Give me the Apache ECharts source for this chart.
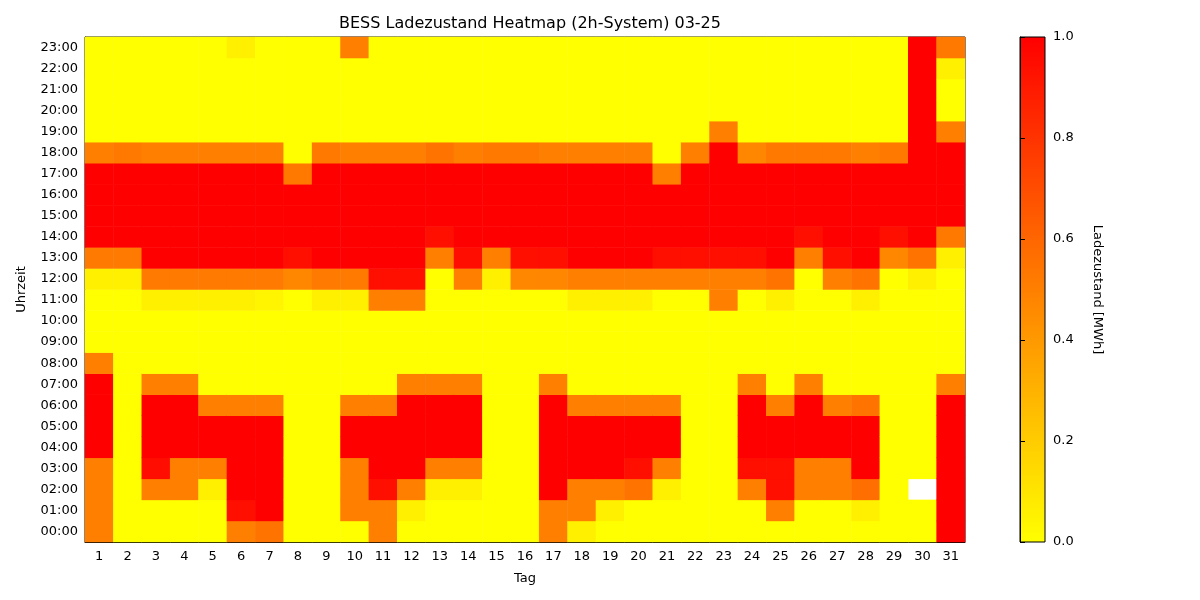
<!DOCTYPE html>
<html>
<head>
<meta charset="utf-8">
<title>BESS Ladezustand Heatmap</title>
<script src="https://cdn.jsdelivr.net/npm/echarts@6/dist/echarts.min.js"></script>
<style>
  html, body { margin: 0; padding: 0; background: #fff; }
  #chart { width: 1200px; height: 600px; }
</style>
</head>
<body>
<div id="chart"></div>
<script>
// Tage (x) und Stunden (y)
var days = [];
for (var i = 1; i <= 31; i++) days.push(String(i));
var hours = [];
for (var h = 0; h < 24; h++) hours.push((h < 10 ? '0' : '') + h + ':00');
var socTicks = [0, 0.2, 0.4, 0.6, 0.8, 1.0];

// Ladezustand je Tag, Stunde 00:00 .. 23:00 ('-' = fehlender Wert)
var d01 = [0.5, 0.5, 0.5, 0.5, 1, 1, 1, 1, 0.5, 0, 0, 0, 0.06, 0.52, 1, 1, 1, 1, 0.5, 0, 0, 0, 0, 0];
var d02 = [0, 0, 0, 0, 0, 0, 0, 0, 0, 0, 0, 0, 0.06, 0.52, 1, 1, 1, 1, 0.53, 0, 0, 0, 0, 0];
var d03 = [0, 0, 0.5, 0.95, 1, 1, 1, 0.5, 0, 0, 0, 0.06, 0.52, 1, 1, 1, 1, 1, 0.5, 0, 0, 0, 0, 0];
var d04 = [0, 0, 0.5, 0.5, 1, 1, 1, 0.5, 0, 0, 0, 0.06, 0.52, 1, 1, 1, 1, 1, 0.5, 0, 0, 0, 0, 0];
var d05 = [0, 0, 0.06, 0.5, 1, 1, 0.5, 0, 0, 0, 0, 0.06, 0.52, 1, 1, 1, 1, 1, 0.5, 0, 0, 0, 0, 0];
var d06 = [0.5, 0.94, 1, 1, 1, 1, 0.5, 0, 0, 0, 0, 0.06, 0.52, 1, 1, 1, 1, 1, 0.5, 0, 0, 0, 0, 0.06];
var d07 = [0.55, 1, 1, 1, 1, 1, 0.5, 0, 0, 0, 0, 0.04, 0.52, 1, 1, 1, 1, 1, 0.5, 0, 0, 0, 0, 0];
var d08 = [0, 0, 0, 0, 0, 0, 0, 0, 0, 0, 0, 0, 0.47, 0.94, 1, 1, 1, 0.53, 0, 0, 0, 0, 0, 0];
var d09 = [0, 0, 0, 0, 0, 0, 0, 0, 0, 0, 0, 0.06, 0.52, 1, 1, 1, 1, 1, 0.53, 0, 0, 0, 0, 0];
var d10 = [0, 0.5, 0.5, 0.5, 1, 1, 0.5, 0, 0, 0, 0, 0.06, 0.52, 1, 1, 1, 1, 1, 0.5, 0, 0, 0, 0, 0.5];
var d11 = [0.5, 0.5, 0.94, 1, 1, 1, 0.5, 0, 0, 0, 0, 0.5, 0.94, 1, 1, 1, 1, 1, 0.5, 0, 0, 0, 0, 0];
var d12 = [0, 0.06, 0.5, 1, 1, 1, 1, 0.5, 0, 0, 0, 0.5, 0.94, 1, 1, 1, 1, 1, 0.5, 0, 0, 0, 0, 0];
var d13 = [0, 0, 0.06, 0.5, 1, 1, 1, 0.5, 0, 0, 0, 0, 0, 0.5, 0.94, 1, 1, 1, 0.55, 0, 0, 0, 0, 0];
var d14 = [0, 0, 0.06, 0.5, 1, 1, 1, 0.5, 0, 0, 0, 0, 0.5, 0.95, 1, 1, 1, 1, 0.5, 0, 0, 0, 0, 0];
var d15 = [0, 0, 0, 0, 0, 0, 0, 0, 0, 0, 0, 0, 0.06, 0.5, 1, 1, 1, 1, 0.53, 0, 0, 0, 0, 0];
var d16 = [0, 0, 0, 0, 0, 0, 0, 0, 0, 0, 0, 0, 0.47, 0.94, 1, 1, 1, 1, 0.53, 0, 0, 0, 0, 0];
var d17 = [0.5, 0.5, 1, 1, 1, 1, 1, 0.5, 0, 0, 0, 0, 0.47, 0.94, 1, 1, 1, 1, 0.5, 0, 0, 0, 0, 0];
var d18 = [0.06, 0.5, 0.5, 1, 1, 1, 0.5, 0, 0, 0, 0, 0.06, 0.5, 1, 1, 1, 1, 1, 0.5, 0, 0, 0, 0, 0];
var d19 = [0, 0.06, 0.5, 1, 1, 1, 0.5, 0, 0, 0, 0, 0.06, 0.5, 1, 1, 1, 1, 1, 0.5, 0, 0, 0, 0, 0];
var d20 = [0, 0, 0.55, 0.94, 1, 1, 0.5, 0, 0, 0, 0, 0.06, 0.5, 1, 1, 1, 1, 1, 0.5, 0, 0, 0, 0, 0];
var d21 = [0, 0, 0.06, 0.5, 1, 1, 0.5, 0, 0, 0, 0, 0, 0.5, 0.94, 1, 1, 1, 0.5, 0, 0, 0, 0, 0, 0];
var d22 = [0, 0, 0, 0, 0, 0, 0, 0, 0, 0, 0, 0, 0.5, 0.94, 1, 1, 1, 1, 0.5, 0, 0, 0, 0, 0];
var d23 = [0, 0, 0, 0, 0, 0, 0, 0, 0, 0, 0, 0.5, 0.5, 0.94, 1, 1, 1, 1, 1, 0.5, 0, 0, 0, 0];
var d24 = [0, 0, 0.5, 0.94, 1, 1, 1, 0.5, 0, 0, 0, 0, 0.5, 0.94, 1, 1, 1, 1, 0.47, 0, 0, 0, 0, 0];
var d25 = [0, 0.5, 0.94, 0.94, 1, 1, 0.5, 0, 0, 0, 0, 0.06, 0.55, 1, 1, 1, 1, 1, 0.53, 0, 0, 0, 0, 0];
var d26 = [0, 0, 0.5, 0.5, 1, 1, 1, 0.5, 0, 0, 0, 0, 0, 0.5, 0.94, 1, 1, 1, 0.53, 0, 0, 0, 0, 0];
var d27 = [0, 0, 0.5, 0.5, 1, 1, 0.5, 0, 0, 0, 0, 0, 0.5, 0.94, 1, 1, 1, 1, 0.53, 0, 0, 0, 0, 0];
var d28 = [0, 0.06, 0.57, 1, 1, 1, 0.55, 0, 0, 0, 0, 0.06, 0.55, 1, 1, 1, 1, 1, 0.5, 0, 0, 0, 0, 0];
var d29 = [0, 0, 0, 0, 0, 0, 0, 0, 0, 0, 0, 0, 0, 0.47, 0.94, 1, 1, 1, 0.53, 0, 0, 0, 0, 0];
var d30 = [0, 0, '-', 0, 0, 0, 0, 0, 0, 0, 0, 0, 0.06, 0.55, 1, 1, 1, 1, 1, 1, 1, 1, 1, 1];
var d31 = [1, 1, 1, 1, 1, 1, 1, 0.5, 0, 0, 0, 0, 0, 0.06, 0.53, 1, 1, 1, 1, 0.5, 0, 0, 0.06, 0.53];

var socByDay = [d01, d02, d03, d04, d05, d06, d07, d08, d09, d10, d11, d12, d13, d14, d15, d16,
	d17, d18, d19, d20, d21, d22, d23, d24, d25, d26, d27, d28, d29, d30, d31];

var cells = [];
socByDay.forEach(function (col, x) {
	col.forEach(function (v, y) {
		cells.push([x, y, v]);
	});
});

var font = 'DejaVu Sans';
var chart = echarts.init(document.getElementById('chart'));

var option = {
	backgroundColor: '#fff',
	animation: false,
	textStyle: { fontFamily: font, color: '#000' },
	title: {
		text: 'BESS Ladezustand Heatmap (2h-System) 03-25',
		left: 525,
		top: 11,
		textAlign: 'center',
		textStyle: { fontFamily: font, fontSize: 16, fontWeight: 'normal', color: '#000' }
	},
	grid: [
		{ left: 85, top: 37, width: 880, height: 505, show: true, borderColor: '#000', borderWidth: 1, backgroundColor: 'transparent' },
		// Farbskala
		{
			left: 1020, top: 37, width: 25, height: 505, show: true, borderColor: '#000', borderWidth: 1,
			backgroundColor: new echarts.graphic.LinearGradient(0, 0, 0, 1, [
				{ offset: 0, color: '#ff0000' },
				{ offset: 1, color: '#ffff00' }
			])
		}
	],
	xAxis: [
		{
			type: 'category', gridIndex: 0, data: days,
			name: 'Tag', nameLocation: 'middle', nameGap: 30,
			nameTextStyle: { fontFamily: font, fontSize: 13, color: '#000' },
			axisLine: { lineStyle: { color: '#000' } },
			axisTick: { alignWithLabel: true, length: 5, lineStyle: { color: '#000' } },
			axisLabel: { fontFamily: font, fontSize: 13, color: '#000', interval: 0, margin: 8 },
			splitLine: { show: false }
		},
		{ type: 'value', gridIndex: 1, show: false, min: 0, max: 1 }
	],
	yAxis: [
		{
			type: 'category', gridIndex: 0, data: hours,
			name: 'Uhrzeit', nameLocation: 'middle', nameGap: 57, nameRotate: 90,
			nameTextStyle: { fontFamily: font, fontSize: 13, color: '#000' },
			axisLine: { lineStyle: { color: '#000' } },
			axisTick: { alignWithLabel: true, length: 5, lineStyle: { color: '#000' } },
			axisLabel: { fontFamily: font, fontSize: 13, color: '#000', interval: 0, margin: 7 },
			splitLine: { show: false }
		},
		{
			type: 'value', gridIndex: 1, position: 'right', min: 0, max: 1, interval: 0.2,
			name: 'Ladezustand [MWh]', nameLocation: 'middle', nameGap: 46, nameRotate: -90,
			nameTextStyle: { fontFamily: font, fontSize: 13, color: '#000' },
			axisLine: { show: true, lineStyle: { color: '#000' } },
			axisTick: { show: true, length: 5, lineStyle: { color: '#000' } },
			axisLabel: {
				fontFamily: font, fontSize: 13, color: '#000', margin: 8,
				formatter: function (v) { return socTicks.indexOf(+v.toFixed(1)) >= 0 ? v.toFixed(1) : ''; }
			},
			splitLine: { show: false }
		}
	],
	visualMap: {
		type: 'continuous', show: false, min: 0, max: 1, dimension: 2, seriesIndex: 0,
		inRange: { color: ['#ffff00', '#ff0000'] }
	},
	series: [{
		type: 'heatmap',
		xAxisIndex: 0, yAxisIndex: 0,
		data: cells,
		itemStyle: { borderWidth: 0 },
		emphasis: { disabled: true }
	}]
};
chart.setOption(option);
</script>
</body>
</html>
